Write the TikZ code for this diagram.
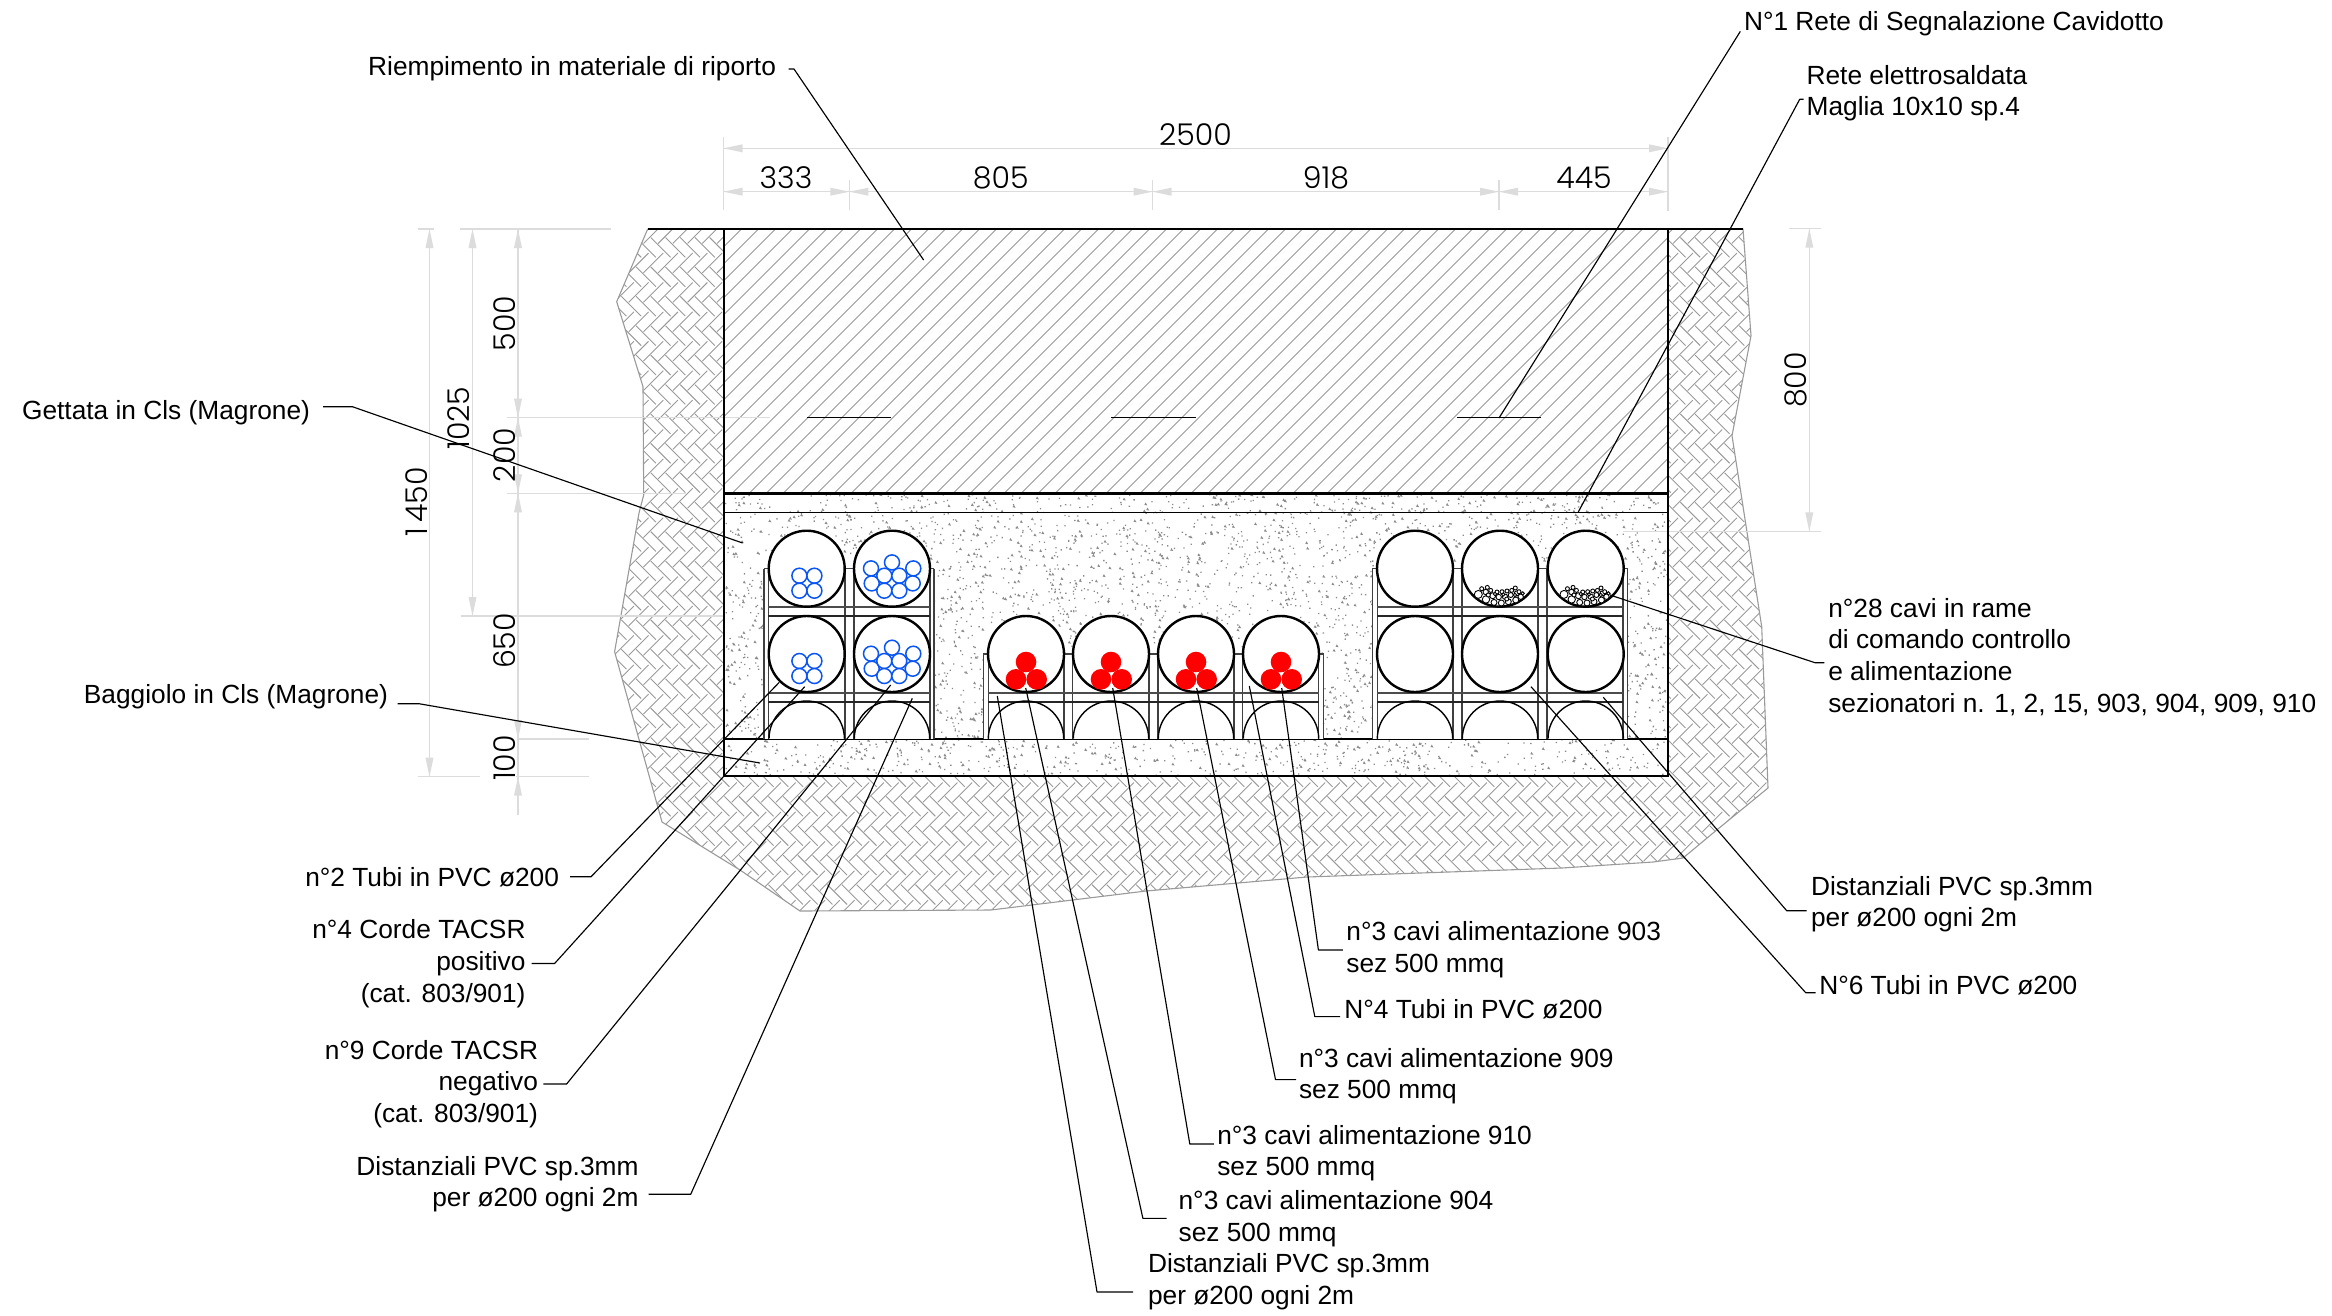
\documentclass[tikz,border=0pt]{standalone}
\usepackage{fontspec}
\setmainfont{Liberation Sans}
\newfontfamily\dimfont[UprightFont={* Light}]{Poppins}
\usetikzlibrary{calc}
\definecolor{dimc}{HTML}{DCDCDC}
\definecolor{hatchc}{HTML}{9A9A9A}
\definecolor{speckc}{HTML}{8C8C8C}
\definecolor{bluec}{HTML}{0A55F5}
\tikzset{
  label/.style={inner sep=0pt,outer sep=0pt,font=\fontsize{26.3}{31.6}\selectfont},
  lblL/.style={label,anchor=north west,align=left},
  lblR/.style={label,anchor=north east,align=right},
  leader/.style={black,line width=1.15pt,line join=round},
  dimline/.style={dimc,line width=1.3pt},
  dimtxt/.style={inner sep=0pt,font=\dimfont\fontsize{30}{30}\selectfont,text=black},
  dimtxtv/.style={dimtxt,rotate=90},
  wall/.style={black,line width=2pt},
  frameV/.style={black!75,line width=1.3pt},
  barA/.style={black!70,line width=1.6pt},
  barB/.style={black!85,line width=1.2pt},
  tube/.style={fill=white,draw=black,line width=2.4pt},
  halftube/.style={draw=black,line width=1.4pt},
  rope/.style={draw=bluec,fill=white,line width=1.5pt},
  redc/.style={fill=red},
  cu/.style={draw=black,fill=white,line width=0.9pt},
  hatch/.style={hatchc,line width=0.9pt},
  speck/.style={speckc},
}
\newcommand\arrU[2]{\fill[dimc] (#1,#2) -- ++(-4,19) -- ++(8,0) -- cycle;}
\newcommand\arrD[2]{\fill[dimc] (#1,#2) -- ++(-4,-19) -- ++(8,0) -- cycle;}
\newcommand\arrL[2]{\fill[dimc] (#1,#2) -- ++(19,-4) -- ++(0,8) -- cycle;}
\newcommand\arrR[2]{\fill[dimc] (#1,#2) -- ++(-19,-4) -- ++(0,8) -- cycle;}
\newcommand\fourropes[2]{\foreach \a/\b in {-7.3/7,7.7/7,-7.3/22,7.7/22}{\draw[rope] (#1+\a,#2+\b) circle[radius=7.5pt];}}
\newcommand\nineropes[2]{\foreach \a/\b in {0/-6.3,-21/-0.3,21.3/-0.3,-20.3/14.7,20.7/14.7,-7.7/7,7.3/7,-7.7/22,7.3/22}{\draw[rope] (#1+\a,#2+\b) circle[radius=7.5pt];}}
\newcommand\threered[2]{\foreach \a/\b in {0/8,-10/25.3,10.7/25.3}{\fill[redc] (#1+\a,#2+\b) circle[radius=10.3pt];}}
\newcommand\curopes[2]{\foreach \a/\b/\r in {-21.7/25.7/4,-14/30.7/3.7,-6/33.7/3,1.3/34.3/3,8.3/33/3,15.7/31.3/3,20.7/28/2.7,-7.3/27/3,-1.3/28.3/2.7,5/28/2.7,10.7/26.3/2.5,16.7/24.7/2.5,-14.3/23.3/2.7,-18.3/20/2,-12.7/18.7/2,-9.3/21.7/2,-3/23.3/2,2/23/2,7/22.3/2,11.7/21.7/2,15.3/19.3/2,19/23/2,15/26.3/1.7,22.7/24.7/1.7,3.3/25.7/1.7,-5/25.3/1.7,-11.7/26.3/2,6.7/30.3/2}{\draw[cu] (#1+\a,#2+\b) circle[radius=\r pt];}}
\begin{document}
\begin{tikzpicture}[x=1pt,y=-1pt]
\useasboundingbox (0,0) rectangle (2332,1315);
\fill[white] (0,0) rectangle (2332,1315);
\pgfmathsetseed{4242}
% ground herringbone
\begin{scope}
\clip (647.7,229) -- (616.7,301.7) -- (643,386.7) -- (643.7,495) -- (639,513) -- (614.6,651.7) -- (662,822) -- (740,870) -- (800,911) -- (990.8,910) -- (1146,891) -- (1307,877) -- (1562,868) -- (1653,862) -- (1683,858) -- (1716.7,830) -- (1768,788) -- (1761.7,626.7) -- (1732,435.7) -- (1751,335.7) -- (1743,228.6) -- cycle;
\begin{scope}[x={(7.354pt,-7.354pt)},y={(7.354pt,7.354pt)},shift={(0.3,0.1)}]
\foreach \k in {-26,...,108}{
  \draw[hatch,dash pattern=on 28pt off 13.6pt] (\k-240+0.1,\k) -- (\k+320,\k);
}
\foreach \j in {53,...,187}{
  \draw[hatch,dash pattern=on 28pt off 13.6pt] (\j+1,\j-260+0.1) -- (\j+1,\j+120);
}
\end{scope}
\end{scope}
\draw[hatchc,line width=1.1pt] (647.7,229) -- (616.7,301.7) -- (643,386.7) -- (643.7,495) -- (639,513) -- (614.6,651.7) -- (662,822) -- (740,870) -- (800,911) -- (990.8,910) -- (1146,891) -- (1307,877) -- (1562,868) -- (1653,862) -- (1683,858) -- (1716.7,830) -- (1768,788) -- (1761.7,626.7) -- (1732,435.7) -- (1751,335.7) -- (1743,228.6);
% trench interior
\fill[white] (723.5,229) rectangle (1668,776);
\begin{scope}
\clip (723.5,229) rectangle (1668,493.5);
\foreach \x in {460,477,...,1670}{\draw[hatch] (\x,493.5) -- (\x+264.5,229);}
\end{scope}
% concrete speckle
\fill[speck] \foreach \i in {1,...,3600}{ (725+942*rnd,494+281*rnd) rectangle ++(1.3,1.3) };
\fill[speck] \foreach \i in {1,...,1300}{ (725+940*rnd,494+279*rnd) -- ++(3,0.5) -- ++(-1.7,-2.9) -- cycle };
% dimension extension lines
\draw[dimline] (723.5,136.7) -- (723.5,210);
\draw[dimline] (1668,137) -- (1668,210.7);
\foreach \x in {849.4,1152.5,1499}{\draw[dimline] (\x,180) -- (\x,210);}
\draw[dimline] (723.5,148.3) -- (1668,148.3);
\draw[dimline] (723.5,191.7) -- (1668,191.7);
\arrL{723.5}{148.3}\arrR{1668}{148.3}
\arrL{723.5}{191.7}\arrR{849.4}{191.7}\arrL{849.4}{191.7}\arrR{1152.5}{191.7}\arrL{1152.5}{191.7}\arrR{1499}{191.7}\arrL{1499}{191.7}\arrR{1668}{191.7}
\draw[dimline] (417.7,229) -- (434,229);
\draw[dimline] (460,229) -- (610.7,229);
\draw[dimline] (429.5,229) -- (429.5,776.7);
\draw[dimline] (472.5,229) -- (472.5,616);
\draw[dimline] (518,229) -- (518,815);
\draw[dimline] (418,776.7) -- (480,776.7);
\draw[dimline] (516,776.7) -- (589,776.7);
\draw[dimline] (460.5,616) -- (723.5,616);
\draw[dimline] (506.7,417.7) -- (770,417.7);
\draw[dimline] (506.7,493.3) -- (686,493.3);
\draw[dimline] (518,739) -- (589,739);
\arrU{429.5}{229}\arrD{429.5}{776.7}
\arrU{472.5}{229}\arrD{472.5}{616}
\arrU{518}{229}\arrD{518}{417.7}\arrU{518}{417.7}\arrD{518}{493.3}\arrU{518}{493.3}\arrD{518}{739}\arrU{518}{776.7}
\draw[dimline] (1789,228.6) -- (1821,228.6);
\draw[dimline] (1623,531.4) -- (1821,531.4);
\draw[dimline] (1809.3,228.6) -- (1809.3,531.4);
\arrU{1809.3}{228.6}\arrD{1809.3}{531.4}
% walls
\draw[wall] (647.7,229) -- (1743,229);
\draw[wall] (723.5,229) -- (723.5,776) -- (1668,776) -- (1668,229);
\draw[black,line width=2.8pt] (723.5,493.5) -- (1668,493.5);
\draw[black,line width=1.5pt] (723.5,512.5) -- (1668,512.5);
\draw[black,line width=1.9pt] (723.5,738.7) -- (1668,738.7);
\foreach \x/\y in {807.3/891.2,1111/1195.6,1457/1541.4}{\draw[black,line width=1.4pt] (\x,417.7) -- (\y,417.7);}
% left cradle
\fill[white] (764,568.7) rectangle (934,738.7);
\foreach \x in {764,768.3,845,854,930,934}{\draw[frameV] (\x,568.7) -- (\x,738.7);}
\foreach \x/\y in {764/768.3,845/854,930/934}{\draw[frameV] (\x,568.7) -- (\y,568.7);}
\draw[barA] (768.3,607) -- (930,607); \draw[barB] (768.3,616) -- (930,616);
\draw[barA] (768.3,692.7) -- (930,692.7); \draw[barB] (768.3,702) -- (930,702);
% centre cradle
\fill[white] (983.3,654) rectangle (1323.7,738.7);
\foreach \x in {983.3,988.3,1064,1072.7,1149,1158,1234,1242.7,1318.7,1323.7}{\draw[frameV] (\x,654) -- (\x,738.7);}
\foreach \x/\y in {983.3/988.3,1064/1072.7,1149/1158,1234/1242.7,1318.7/1323.7}{\draw[frameV] (\x,654) -- (\y,654);}
\draw[barA] (988.3,692.7) -- (1318.7,692.7); \draw[barB] (988.3,702) -- (1318.7,702);
% right cradle
\fill[white] (1372.3,568.7) rectangle (1627.7,738.7);
\foreach \x in {1372.3,1377.3,1453,1462,1538,1547,1623,1627.7}{\draw[frameV] (\x,568.7) -- (\x,738.7);}
\foreach \x/\y in {1372.3/1377.3,1453/1462,1538/1547,1623/1627.7}{\draw[frameV] (\x,568.7) -- (\y,568.7);}
\draw[barA] (1377.3,607) -- (1623,607); \draw[barB] (1377.3,616) -- (1623,616);
\draw[barA] (1377.3,692.7) -- (1623,692.7); \draw[barB] (1377.3,702) -- (1623,702);
% half tubes
\foreach \x in {806.7,892,1026,1111,1196,1281,1415,1500,1585.7}{
  \draw[halftube] (\x-37.7,738.7) arc[start angle=180,end angle=0,radius=37.7pt];
}
% tubes
\foreach \x in {806.7,892,1415,1500,1585.7}{\draw[tube] (\x,568.7) circle[radius=38pt];}
\foreach \x in {806.7,892,1026,1111,1196,1281,1415,1500,1585.7}{\draw[tube] (\x,654) circle[radius=38pt];}
\fourropes{806.7}{568.7}\fourropes{806.7}{654}
\nineropes{892}{568.7}\nineropes{892}{654}
\foreach \x in {1026,1111,1196,1281}{\threered{\x}{654}}
\curopes{1500}{568.7}\curopes{1585.7}{568.7}
% dimension numbers
\node[dimtxt] (d2500) at (1195.5,135) {2500};
\node[dimtxt] (d333) at (786,178) {333};
\node[dimtxt] (d805) at (1000.7,178) {805};
\node[dimtxt] (d918) at (1326,178) {918};
\node[dimtxt] (d445) at (1584,178) {445};
\node[dimtxtv] (d500) at (505,323.3) {500};
\node[dimtxtv] (d200) at (505,455) {200};
\node[dimtxtv] (d650) at (505,641) {650};
\node[dimtxtv] (d100) at (505,758) {100};
\node[dimtxtv] (d1025) at (459,418) {1025};
\node[dimtxtv] (d1450) at (417,501.7) {1\kern5pt 450};
\node[dimtxtv] (d800) at (1796,380) {800};
% labels (y = first baseline - 20)
\def\st{\rule{0pt}{20pt}}
\node[lblR] (nRiemp) at (776,55.7) {\st Riempimento in materiale di riporto};
\node[lblL] (nSeg) at (1744,10.4) {\st N°1 Rete di Segnalazione Cavidotto};
\node[lblL] (nRete) at (1806.6,64) {\st Rete elettrosaldata\\Maglia 10x10 sp.4};
\node[lblR] (nGett) at (310,399.3) {\st Gettata in Cls (Magrone)};
\node[lblR] (nBagg) at (388,683) {\st Baggiolo in Cls (Magrone)};
\node[lblR] (nTubi) at (559,866.7) {\st n°2 Tubi in PVC ø200};
\node[lblR] (nC4) at (525.5,918.8) {\st n°4 Corde TACSR\\positivo\\(cat. 803/901)};
\node[lblR] (nC9) at (538,1039) {\st n°9 Corde TACSR\\negativo\\(cat. 803/901)};
\node[lblR] (nDL) at (638.5,1155) {\st Distanziali PVC sp.3mm\\per ø200 ogni 2m};
\node[lblL] (n903) at (1346.4,920.5) {\st n°3 cavi alimentazione 903\\sez 500 mmq};
\node[lblL] (nT4) at (1344.4,998.4) {\st N°4 Tubi in PVC ø200};
\node[lblL] (n909) at (1299,1047) {\st n°3 cavi alimentazione 909\\sez 500 mmq};
\node[lblL] (n910) at (1217.3,1124) {\st n°3 cavi alimentazione 910\\sez 500 mmq};
\node[lblL] (n904) at (1178.6,1189.6) {\st n°3 cavi alimentazione 904\\sez 500 mmq};
\node[lblL] (nDB) at (1148,1252.6) {\st Distanziali PVC sp.3mm\\per ø200 ogni 2m};
\node[lblL] (n28) at (1828.3,597.3) {\st n°28 cavi in rame\\di comando controllo\\e alimentazione\\sezionatori n. 1, 2, 15, 903, 904, 909, 910};
\node[lblL] (nDR) at (1811,875) {\st Distanziali PVC sp.3mm\\per ø200 ogni 2m};
\node[lblL] (nT6) at (1819.3,974.3) {\st N°6 Tubi in PVC ø200};
% leader knees and targets
\coordinate (kRiemp) at (794,69);      \coordinate (tRiemp) at (923.6,260);
\coordinate (kSeg) at (1740.3,31.4);   \coordinate (tSeg) at (1499,418);
\coordinate (kRete) at (1799.7,99.3);  \coordinate (tRete) at (1578,512.5);
\coordinate (kGett) at (352.4,406.7);  \coordinate (tGett) at (742.6,543);
\coordinate (kBagg) at (419,703.7);    \coordinate (tBagg) at (760,763);
\coordinate (kTubi) at (591,876.8);    \coordinate (tTubi) at (779.3,682.3);
\coordinate (kC4) at (554.6,963.5);    \coordinate (tC4) at (804.7,686.7);
\coordinate (kC9) at (566.6,1084);     \coordinate (tC9) at (890.7,685);
\coordinate (kDL) at (690.7,1194.3);   \coordinate (tDL) at (912.3,698.3);
\coordinate (k903) at (1318.4,950);    \coordinate (t903) at (1281.7,688);
\coordinate (kT4) at (1314.8,1016.6);  \coordinate (tT4) at (1249.3,686);
\coordinate (k909) at (1275.5,1079.6); \coordinate (t909) at (1196.7,688);
\coordinate (k910) at (1189.8,1144);   \coordinate (t910) at (1112.7,688);
\coordinate (k904) at (1142.9,1218.4); \coordinate (t904) at (1025.7,688);
\coordinate (kDB) at (1097,1292);      \coordinate (tDB) at (997.3,696);
\coordinate (k28) at (1815,662.7);     \coordinate (t28) at (1610,595);
\coordinate (kDR) at (1786.7,910.7);   \coordinate (tDR) at (1603.3,697.3);
\coordinate (kT6) at (1805.7,992.7);   \coordinate (tT6) at (1531,686.7);
% leaders
\draw[leader,shorten <=12.5pt] (nRiemp.east |- kRiemp) -- (kRiemp) -- (tRiemp);
\draw[leader] (kSeg) -- (tSeg);
\draw[leader,shorten <=3pt] (nRete.west |- kRete) -- (kRete) -- (tRete);
\draw[leader,shorten <=13pt] (nGett.east |- kGett) -- (kGett) -- (tGett);
\draw[leader,shorten <=9.5pt] (nBagg.east |- kBagg) -- (kBagg) -- (tBagg);
\draw[leader,shorten <=11pt] (nTubi.east |- kTubi) -- (kTubi) -- (tTubi);
\draw[leader,shorten <=6pt] (nC4.east |- kC4) -- (kC4) -- (tC4);
\draw[leader,shorten <=5.4pt] (nC9.east |- kC9) -- (kC9) -- (tC9);
\draw[leader,shorten <=10pt] (nDL.east |- kDL) -- (kDL) -- (tDL);
\draw[leader,shorten <=3.5pt] (n903.west |- k903) -- (k903) -- (t903);
\draw[leader,shorten <=4.4pt] (nT4.west |- kT4) -- (kT4) -- (tT4);
\draw[leader,shorten <=3pt] (n909.west |- k909) -- (k909) -- (t909);
\draw[leader,shorten <=3.5pt] (n910.west |- k910) -- (k910) -- (t910);
\draw[leader,shorten <=12pt] (n904.west |- k904) -- (k904) -- (t904);
\draw[leader,shorten <=15pt] (nDB.west |- kDB) -- (kDB) -- (tDB);
\draw[leader,shorten <=4pt] (n28.west |- k28) -- (k28) -- (t28);
\draw[leader,shorten <=4.3pt] (nDR.west |- kDR) -- (kDR) -- (tDR);
\draw[leader,shorten <=3.6pt] (nT6.west |- kT6) -- (kT6) -- (tT6);
\end{tikzpicture}
\end{document}
